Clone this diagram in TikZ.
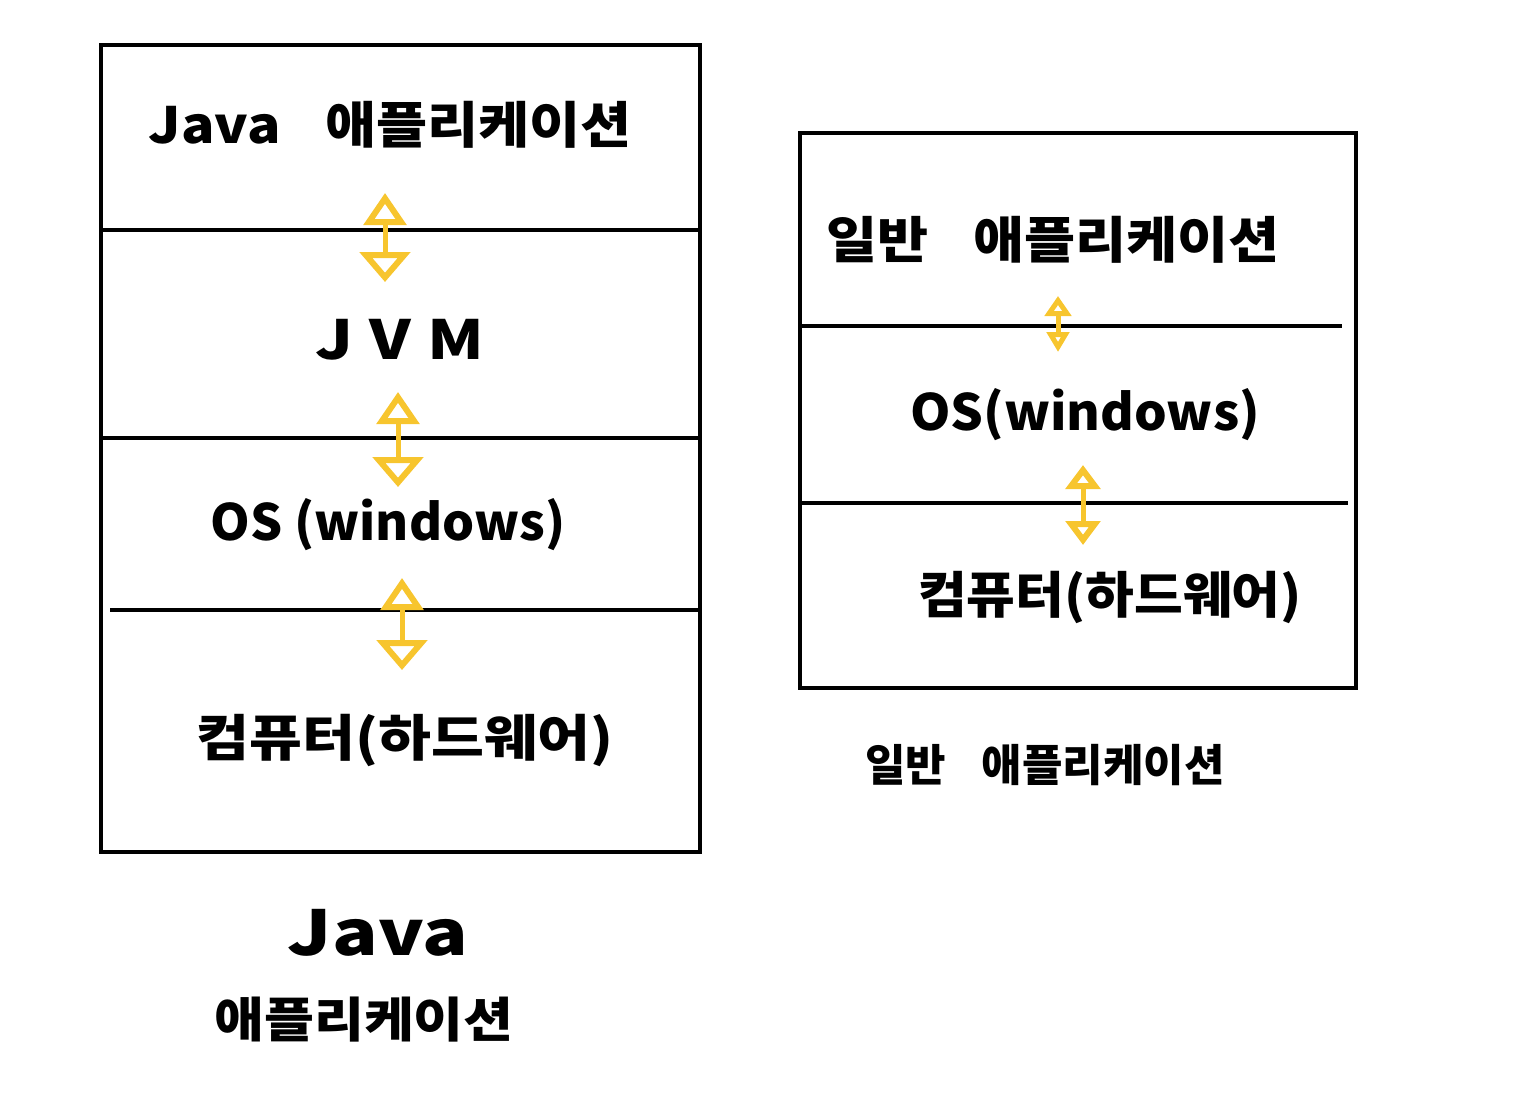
\documentclass[tikz,border=0pt]{standalone}
\usepackage{fontspec}
\setmainfont{Noto Sans CJK KR}
\usetikzlibrary{arrows.meta}
\definecolor{arrowyellow}{HTML}{F7C52E}
\newcommand{\widetext}[2]{\scalebox{#1}[1]{#2}}
\tikzset{
  frame/.style={draw=black, line width=4pt},
  divider/.style={draw=black, line width=3.5pt},
  lbl/.style={font=\fontsize{50}{56}\selectfont\bfseries, inner sep=0pt, anchor=center},
  bigarrow/.style={draw=arrowyellow, line width=5pt, {Triangle[open,width=50pt,length=30pt,line width=6pt]}-{Triangle[open,width=42pt,length=32pt,line width=6pt]}},
  smallarrow/.style={draw=arrowyellow, line width=5pt, {Triangle[open,width=22pt,length=20pt,line width=5.5pt]}-{Triangle[open,width=26pt,length=20pt,line width=5.5pt]}},
  midarrow/.style={draw=arrowyellow, line width=5pt, {Triangle[open,width=34pt,length=24pt,line width=6pt]}-{Triangle[open,width=34pt,length=24pt,line width=6pt]}}
}
\begin{document}
\begin{tikzpicture}[x=1pt,y=-1pt]
\useasboundingbox (0,0) rectangle (1536,1094);
% left box
\draw[frame] (101,45) rectangle (700,852);
\draw[divider] (101,230) -- (700,230);
\draw[divider] (101,438) -- (700,438);
\draw[divider] (110,610) -- (700,610);
% right box
\draw[frame] (800,133) rectangle (1356,688);
\draw[divider] (800,326) -- (1342,326);
\draw[divider] (800,503) -- (1348,503);
% left labels
\node[lbl] (ja) at (390,125) {\widetext{1.11}{Java\hspace{0.8em}애플리케이션}};
\node[lbl, font=\fontsize{54}{60}\selectfont\bfseries] (jvm) at (400,340) {\widetext{1.2}{J\hspace{0.25em}V\hspace{0.25em}M}};
\node[lbl] (los) at (388,525) {\widetext{1.01}{OS (windows)}};
\node[lbl] (lhw) at (405,740) {\widetext{1.15}{컴퓨터(하드웨어)}};
% left arrows
\coordinate (a1t) at (385,193); \coordinate (a1b) at (385,282);
\coordinate (a2t) at (398,392); \coordinate (a2b) at (398,487);
\coordinate (a3t) at (402,578); \coordinate (a3b) at (402,670);
\draw[bigarrow] (a1b) -- (a1t);
\draw[bigarrow] (a2b) -- (a2t);
\draw[bigarrow] (a3b) -- (a3t);
% right labels
\node[lbl] (ga) at (1053,240) {\widetext{1.11}{일반\hspace{0.8em}애플리케이션}};
\node[lbl] (ros) at (1085,415) {\widetext{1.03}{OS(windows)}};
\node[lbl] (rhw) at (1110,597) {\widetext{1.06}{컴퓨터(하드웨어)}};
% right arrows
\coordinate (b1t) at (1058,296); \coordinate (b1b) at (1058,352);
\coordinate (b2t) at (1083,465); \coordinate (b2b) at (1083,545);
\draw[smallarrow] (b1b) -- (b1t);
\draw[midarrow] (b2b) -- (b2t);
% captions
\node[lbl, font=\fontsize{62}{66}\selectfont\bfseries] (cj1) at (378,933) {\widetext{1.22}{Java}};
\node[lbl, font=\fontsize{48}{54}\selectfont\bfseries] (cj2) at (364,1020) {\widetext{1.13}{애플리케이션}};
\node[lbl, font=\fontsize{44}{50}\selectfont\bfseries] (cg) at (1045,765) {일반\hspace{0.8em}애플리케이션};
\end{tikzpicture}
\end{document}
